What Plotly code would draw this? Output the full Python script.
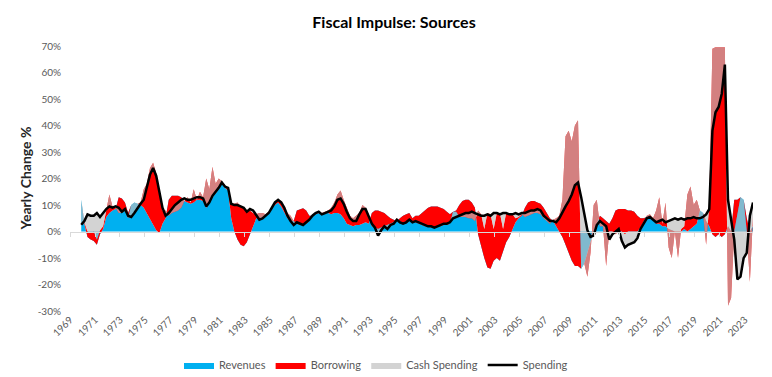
import numpy as np
import plotly.graph_objects as go

# ---------------- data (quarterly, starting late 1969) ----------------
spending = [
    2.6, 4.0, 6.5, 6.0,        # 1970
    6.0, 7.0, 5.5, 7.0,        # 1971
    8.5, 9.5, 9.0, 9.5,        # 1972
    9.0, 7.5, 8.5, 6.0,        # 1973
    5.5, 7.0, 9.0, 10.5,       # 1974
    12.0, 17.0, 21.5, 24.0,    # 1975
    21.0, 15.0, 9.0, 6.0,      # 1976
    7.0, 8.5, 10.0, 11.0,      # 1977
    12.0, 12.5, 12.0, 12.0,    # 1978
    12.5, 13.0, 13.0, 12.5,    # 1979
    9.5, 11.0, 13.5, 15.0,     # 1980
    16.5, 18.5, 17.0, 16.5,    # 1981
    10.5, 10.0, 10.0, 9.5,     # 1982
    9.0, 7.5, 8.5, 8.0,        # 1983
    6.0, 4.5, 5.0, 6.0,        # 1984
    7.0, 9.0, 11.0, 12.0,      # 1985
    11.0, 9.0, 6.0, 4.0,       # 1986
    2.5, 3.5, 3.0, 2.5,        # 1987
    3.5, 4.5, 6.0, 7.0,        # 1988
    7.5, 6.5, 7.0, 7.5,        # 1989
    8.0, 9.5, 12.0, 12.5,      # 1990
    10.5, 7.5, 5.0, 4.0,       # 1991
    4.0, 6.5, 8.5, 8.5,        # 1992
    6.0, 3.0, 1.5, -1.5,       # 1993
    0.5, 2.0, 1.0, 2.5,        # 1994
    3.0, 4.5, 3.5, 3.0,        # 1995
    3.5, 4.5, 3.5, 4.0,        # 1996
    3.5, 3.0, 2.5, 2.0,        # 1997
    2.0, 1.5, 2.0, 2.5,        # 1998
    3.0, 3.0, 3.5, 5.0,        # 1999
    5.5, 6.0, 6.5, 7.0,        # 2000
    7.0, 7.5, 7.0, 6.5,        # 2001
    6.0, 6.0, 6.5, 6.0,        # 2002
    7.0, 7.0, 6.5, 7.0,        # 2003
    7.0, 6.5, 6.5, 7.0,        # 2004
    6.5, 7.0, 7.0, 7.5,        # 2005
    8.0, 8.0, 8.5, 8.0,        # 2006
    6.0, 5.0, 4.0, 4.0,        # 2007
    3.5, 5.0, 7.5, 9.5,        # 2008
    11.5, 14.0, 17.5, 18.5,    # 2009
    13.0, 6.0, 0.5, -2.0,      # 2010
    -1.5, 2.5, 4.0, 3.0,       # 2011
    2.0, -3.0, -1.0, 0.0,      # 2012
    1.0, -3.5, -6.0, -5.0,     # 2013
    -4.5, -4.0, -2.5, 1.0,     # 2014
    3.0, 5.0, 5.5, 4.5,        # 2015
    3.5, 4.0, 4.5, 3.5,        # 2016
    4.0, 4.5, 5.0, 4.5,        # 2017
    5.0, 4.5, 5.0, 5.0,        # 2018
    5.5, 5.0, 5.0, 5.5,        # 2019
    6.5, 8.5, 38.0, 45.0,      # 2020
    47.0, 52.0, 63.0, 12.0,    # 2021
    5.0, -3.0, -18.0, -17.0,   # 2022
    -10.0, -8.0, 6.0, 11.0,    # 2023
]

revenues = [
    12, 3, -2, -3,             # 1970
    -3.5, -5, -1, 1,           # 1971
    5.5, 7, 8, 8.5,            # 1972
    13, 12.5, 11, 7,           # 1973
    10, 11, 10.5, 10,          # 1974
    9, 7, 5, 3,                # 1975
    0.5, -0.5, 3, 5,           # 1976
    12, 13.5, 13.5, 13.5,      # 1977
    13, 11.5, 11, 10.5,        # 1978
    11, 12, 12, 11.5,          # 1979
    9, 10.5, 13, 14.5,         # 1980
    16, 18, 16.5, 15.5,        # 1981
    5, 0, -3, -5,              # 1982
    -5.5, -4, -1, 2,           # 1983
    5, 5, 5.5, 6,              # 1984
    7, 9, 10, 11,              # 1985
    9.5, 7, 5, 4,              # 1986
    4, 8, 8.5, 8.8,            # 1987
    8, 6, 6, 6.5,              # 1988
    7, 6.5, 7, 7,              # 1989
    6.5, 7, 7, 6.5,            # 1990
    5, 3, 2.5, 2,              # 1991
    2.5, 2.5, 3, 3.5,          # 1992
    3, 7, 8, 8,                # 1993
    7.5, 7, 6, 5,              # 1994
    4.5, 4, 5, 6,              # 1995
    6.5, 7, 5, 6,              # 1996
    6, 7, 8, 9,                # 1997
    9.5, 9.5, 9.5, 9,          # 1998
    8.5, 7.5, 6.5, 7.5,        # 1999
    8, 10, 11.5, 12,           # 2000
    12, 11, 9, -1,             # 2001
    -6, -10, -13.5, -14,       # 2002
    -11, -10, -11, -7,         # 2003
    -4, -2, 1, 3.5,            # 2004
    5, 6, 9, 11,               # 2005
    11.5, 11.5, 11, 10.5,      # 2006
    9, 7, 5, 4,                # 2007
    2, 0, -2, -5,              # 2008
    -8, -11, -13, -13,         # 2009
    -14, -12, -8, -4,          # 2010
    0, 3, 6, 5,                # 2011
    4, 3, 5, 8,                # 2012
    8.5, 8.5, 8.5, 8,          # 2013
    8, 7.5, 6, 5,              # 2014
    5, 5.5, 6, 4.5,            # 2015
    3, 3, 2, 2,                # 2016
    1, 0.5, 0, 0,              # 2017
    0, 1, 0, 1,                # 2018
    2, 3, 8, 7,                # 2019
    4, 2, -1, -2,              # 2020
    -1, -2, -1, 2,             # 2021
    0, 12, 12, 13,             # 2022
    12, 5, 0, 2,               # 2023
]

borrowing = [
    0, 0.5, 2, 2.5,            # 1970
    3.5, 2, 1.5, 1,            # 1971
    2.5, 7, 1.5, 0.5,          # 1972
    -6, -5.5, -3, -2,          # 1973
    0, 0, 0, 1,                # 1974
    7, 11, 19, 23,             # 1975
    21.5, 16, 5, 3,            # 1976
    -6, -6.5, -6, -5.5,        # 1977
    -4, 0, 2, 0.5,             # 1978
    5, 0, 3, 1.5,              # 1979
    11, 5.5, 11.5, 3.5,        # 1980
    4, 1, 1, 0.5,              # 1981
    5.5, 10.5, 14, 14.5,       # 1982
    14.5, 12, 9, 5,            # 1983
    1.5, 2, 1.5, 0.5,          # 1984
    0.5, 0.5, 1, 1,            # 1985
    1, 2, 2, 2,                # 1986
    0, -5, -6, -6.3,           # 1987
    -5, -2, 0.5, 0.5,          # 1988
    0.5, 0.5, 0.5, 1,          # 1989
    2.5, 4, 7, 9,              # 1990
    7, 6, 3.5, 3,              # 1991
    3.5, 4.5, 7, 5.5,          # 1992
    3.5, -5, -6.5, -7,         # 1993
    -6, -5, -3.5, -2,          # 1994
    -1, 1, -1, -3,             # 1995
    -3, -3, -1, -2.5,          # 1996
    -3, -4.5, -6, -7,          # 1997
    -8, -8, -7.5, -7,          # 1998
    -6, -5, -3.5, 0,           # 1999
    -0.5, -4.5, -6, -6.5,      # 2000
    -7, -6, -5, 9,             # 2001
    12.5, 11, 20.5, 20.5,      # 2002
    12, 17, 18, 8,             # 2003
    11, 9, 5.5, 1.5,           # 2004
    0.5, 0.5, -3.5, -5,        # 2005
    -5, -4.5, -4, -4,          # 2006
    -4, -3, -2, 0.5,           # 2007
    3, 6, 14, 41,              # 2008
    46, 45, 53, 55,            # 2009
    0, 0, -9, -4,              # 2010
    10, 9, -4, -3,             # 2011
    -17, -3, -5, -9,           # 2012
    -8.5, -8.5, -9.5, -8,      # 2013
    -8, -7.5, -6, -3.5,        # 2014
    -1.5, 0.5, 0.5, 0.5,       # 2015
    5, 10, 1, 9,               # 2016
    -7, -10.5, 0, -10,         # 2017
    1, 1, 14, 16,              # 2018
    8, 9, 0, 0,                # 2019
    -9, 8, 70, 71.5,           # 2020
    70.5, 71.5, 70.5, -30,     # 2021
    -25, -12, -6, 0,           # 2022
    0, -5, -19, 4,             # 2023
]

# cash spending closes the identity: spending = revenues + borrowing + cash spending
cash_spending = [s - r - b for s, r, b in zip(spending, revenues, borrowing)]

year_ticks = list(range(1969, 2024, 2))
year_labels = [str(y) for y in year_ticks]
pct_ticks = [-30, -20, -10, 0, 10, 20, 30, 40, 50, 60, 70]
pct_labels = ["-30%", "-20%", "-10%", "0%", "10%", "20%", "30%", "40%", "50%", "60%", "70%"]

n = len(spending)
assert len(revenues) == n and len(borrowing) == n
t = 1969.9 + 0.25 * np.arange(n)

FONT = "Lato"
GREY = "#595959"
BLUE = "#00B0F0"
RED = "#FF0000"
CASH = "rgba(190,190,190,0.675)"

fig = go.Figure()
fig.add_trace(go.Scatter(x=t, y=revenues, name="Revenues", stackgroup="src", mode="lines",
                         line=dict(width=0, color=BLUE), fillcolor=BLUE))
fig.add_trace(go.Scatter(x=t, y=borrowing, name="Borrowing", stackgroup="src", mode="lines",
                         line=dict(width=0, color=RED), fillcolor=RED))
fig.add_trace(go.Scatter(x=t, y=cash_spending, name="Cash Spending", stackgroup="src", mode="lines",
                         line=dict(width=0, color=CASH), fillcolor=CASH))
fig.add_trace(go.Scatter(x=t, y=spending, name="Spending", mode="lines",
                         line=dict(color="black", width=2.5)))
# helper (empty) trace to activate the zero-crossing axis
fig.add_trace(go.Scatter(x=[], y=[], xaxis="x2", showlegend=False, hoverinfo="skip"))

xr = [1969, 2023.65]
fig.update_layout(
    width=772, height=377,
    margin=dict(l=62, r=27, t=38, b=69),
    paper_bgcolor="white", plot_bgcolor="white",
    font=dict(family=FONT, color=GREY),
    title=dict(text="<b>Fiscal Impulse: Sources</b>", x=0.5, xref="container", xanchor="center",
               y=1 - 14 / 377, yref="container", yanchor="middle",
               font=dict(size=16, color="black", family=FONT)),
    xaxis=dict(range=xr, tickvals=year_ticks, ticktext=year_labels, tickangle=-45,
               showline=False, showgrid=False, zeroline=False, ticks="",
               tickfont=dict(size=10, color=GREY, family=FONT)),
    xaxis2=dict(range=xr, overlaying="x", anchor="free", position=0.3, side="bottom",
                showline=True, linecolor="#D9D9D9", linewidth=1, ticks="outside", ticklen=4,
                tickcolor="#D9D9D9", tickvals=year_ticks, showticklabels=False,
                showgrid=False, zeroline=False, layer="above traces"),
    yaxis=dict(range=[-30, 70], tickvals=pct_ticks, ticktext=pct_labels,
               showgrid=False, zeroline=False, showline=False, ticks="",
               ticklabelstandoff=8, tickfont=dict(size=10, color=GREY, family=FONT)),
    legend=dict(orientation="h", xref="container", x=368 / 772, xanchor="center",
                yref="container", y=1 - 357 / 377, yanchor="middle",
                font=dict(size=11, color=GREY, family=FONT), traceorder="normal"),
    showlegend=True,
)
fig.add_annotation(text="<b>Yearly Change %</b>", textangle=-90, xref="paper", yref="paper",
                   x=(18 - 62) / 683, y=0.5, xanchor="center", yanchor="middle", showarrow=False,
                   font=dict(size=14, color="#262626", family=FONT))

fig.write_html("out.html")
